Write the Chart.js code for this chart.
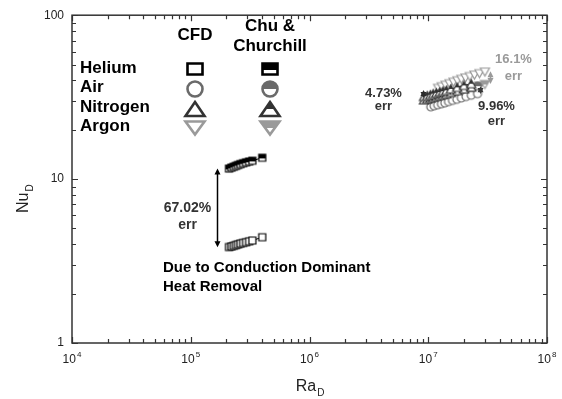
<!DOCTYPE html>
<html>
<head>
<meta charset="utf-8">
<script src="https://cdn.jsdelivr.net/npm/chart.js@4.4.1/dist/chart.umd.min.js"></script>
<style>
  html, body { margin: 0; padding: 0; background: #fff; }
  #wrap { width: 562px; height: 399px; }
</style>
</head>
<body>
<div id="wrap"><canvas id="nuChart"></canvas></div>
<script>
// Nusselt vs Rayleigh, CFD results against the Chu & Churchill correlation
const heliumRa    = [2.1e5, 2.2e5, 2.3e5, 2.4e5, 2.5e5, 2.62e5, 2.76e5, 2.92e5, 3.1e5, 3.3e5, 4.0e5];
const heliumCfdNu = [3.85, 3.88, 3.92, 3.96, 4.0, 4.04, 4.08, 4.12, 4.17, 4.22, 4.42];
const heliumCcNu  = [11.6, 11.75, 11.9, 12.05, 12.2, 12.35, 12.5, 12.65, 12.8, 12.95, 13.5];

const airRa    = [1.05e7, 1.12e7, 1.2e7, 1.29e7, 1.38e7, 1.48e7, 1.6e7, 1.74e7, 1.9e7, 2.08e7, 2.3e7, 2.6e7];
const airCfdNu = [27.6, 28.0, 28.4, 28.8, 29.2, 29.7, 30.2, 30.7, 31.3, 31.9, 32.5, 33.2];
const airCcNu  = [30.6, 31.1, 31.5, 32.0, 32.4, 33.0, 33.5, 34.1, 34.7, 35.4, 36.1, 36.9];

const nitrogenRa    = [9.2e6, 9.8e6, 1.04e7, 1.1e7, 1.17e7, 1.25e7, 1.33e7, 1.42e7, 1.55e7, 1.75e7, 2.0e7, 2.3e7];
const nitrogenCfdNu = [30.4, 30.8, 31.2, 31.6, 32.0, 32.4, 32.8, 33.2, 33.8, 34.6, 35.5, 36.4];
const nitrogenCcNu  = [31.9, 32.3, 32.7, 33.2, 33.6, 34.0, 34.4, 34.8, 35.5, 36.3, 37.3, 38.2];

const argonRa    = [1.21e7, 1.3e7, 1.4e7, 1.51e7, 1.63e7, 1.76e7, 1.9e7, 2.06e7, 2.24e7, 2.45e7, 2.7e7, 3.0e7];
const argonCfdNu = [35.8, 36.6, 37.4, 38.2, 39.0, 39.8, 40.6, 41.4, 42.2, 43.1, 44.0, 45.0];
const argonCcNu  = [30.1, 30.7, 31.4, 32.1, 32.8, 33.4, 34.1, 34.8, 35.4, 36.2, 37.0, 37.8];

const gasNames  = ['Helium', 'Air', 'Nitrogen', 'Argon'];
const gasColors = ['#000000', '#6a6a6a', '#333333', '#9a9a9a'];
const gasShapes = ['square', 'circle', 'triangle', 'triangleDown'];

// error bars between CFD and correlation
const errLabels  = ['67.02%', '4.73%', '9.96%', '16.1%'];
const errRa      = [1.66e5, 9.0e6, 2.72e7, 3.3e7];
const errNuHigh  = [11.6, 35.0, 36.8, 45.5];
const errNuLow   = [3.84, 31.2, 33.1, 38.0];
const errColors  = ['#000000', '#2a2a2a', '#3a3a3a', '#9a9a9a'];

const xTickExp = [4, 5, 6, 7, 8];
const yTickLabels = { 1: '1', 10: '10', 100: '100' };

const FONT = '"Liberation Sans", Arial, sans-serif';

function tracePath(ctx, shape, cx, cy, w, h) {
  ctx.beginPath();
  if (shape === 'square') {
    ctx.rect(cx - w / 2, cy - h / 2, w, h);
  } else if (shape === 'circle') {
    ctx.ellipse(cx, cy, w / 2, h / 2, 0, 0, Math.PI * 2);
  } else if (shape === 'triangle') {
    ctx.moveTo(cx, cy - h / 2);
    ctx.lineTo(cx + w / 2, cy + h / 2);
    ctx.lineTo(cx - w / 2, cy + h / 2);
    ctx.closePath();
  } else {
    ctx.moveTo(cx - w / 2, cy - h / 2);
    ctx.lineTo(cx + w / 2, cy - h / 2);
    ctx.lineTo(cx, cy + h / 2);
    ctx.closePath();
  }
}

// open or top-half-filled marker
function drawMarker(ctx, shape, cx, cy, w, h, color, half, lw) {
  ctx.save();
  tracePath(ctx, shape, cx, cy, w, h);
  ctx.fillStyle = '#fff';
  ctx.fill();
  if (half) {
    ctx.save();
    ctx.beginPath();
    ctx.rect(cx - w, cy - h, w * 2, h * (shape === 'square' ? 1.1 : 1));
    ctx.clip();
    tracePath(ctx, shape, cx, cy, w, h);
    ctx.fillStyle = color;
    ctx.fill();
    ctx.restore();
    tracePath(ctx, shape, cx, cy, w, h);
  }
  ctx.lineWidth = lw;
  ctx.strokeStyle = color;
  ctx.lineJoin = 'miter';
  ctx.stroke();
  ctx.restore();
}

const plotSize = {
  square: [7, 7], circle: [8, 8], triangle: [9, 8], triangleDown: [9, 8]
};

function markerCanvas(shape, color, half) {
  const [w, h] = plotSize[shape];
  const c = document.createElement('canvas');
  c.width = w + 4;
  c.height = h + 4;
  drawMarker(c.getContext('2d'), shape, c.width / 2, c.height / 2, w, h, color, half, 1.2);
  return c;
}

function series(label, ra, nu, gasIdx, half) {
  const color = gasColors[gasIdx];
  return {
    label: label,
    data: ra.map((r, i) => ({ x: r, y: nu[i] })),
    showLine: true,
    borderColor: color,
    borderWidth: 1,
    pointStyle: markerCanvas(gasShapes[gasIdx], color, half),
    pointRadius: 4,
    fill: false
  };
}

// first dataset ends up on top
const datasets = [
  series('Helium CFD', heliumRa, heliumCfdNu, 0, false),
  series('Helium Chu & Churchill', heliumRa, heliumCcNu, 0, true),
  series('Nitrogen Chu & Churchill', nitrogenRa, nitrogenCcNu, 2, true),
  series('Nitrogen CFD', nitrogenRa, nitrogenCfdNu, 2, false),
  series('Air CFD', airRa, airCfdNu, 1, false),
  series('Air Chu & Churchill', airRa, airCcNu, 1, true),
  series('Argon Chu & Churchill', argonRa, argonCcNu, 3, true),
  series('Argon CFD', argonRa, argonCfdNu, 3, false)
];

function drawArrow(ctx, x, y1, y2, color) {
  const head = 6;
  ctx.save();
  ctx.strokeStyle = color;
  ctx.fillStyle = color;
  ctx.lineWidth = 1.5;
  ctx.beginPath();
  ctx.moveTo(x, y1 + head - 1);
  ctx.lineTo(x, y2 - head + 1);
  ctx.stroke();
  ctx.beginPath();
  ctx.moveTo(x, y1); ctx.lineTo(x - 3, y1 + head); ctx.lineTo(x + 3, y1 + head);
  ctx.closePath(); ctx.fill();
  ctx.beginPath();
  ctx.moveTo(x, y2); ctx.lineTo(x - 3, y2 - head); ctx.lineTo(x + 3, y2 - head);
  ctx.closePath(); ctx.fill();
  ctx.restore();
}

// label placement around each arrow (pixels): dx, y of value line and "err" line from arrow middle, font size
const errLabelPos = [[-30, 0, 17, 14], [-40, -1, 12, 13], [16, 16, 31, 13], [23, -18, -1, 13]];

const decorPlugin = {
  id: 'decor',
  afterDraw(chart) {
    const ctx = chart.ctx;
    const a = chart.chartArea;
    const xs = chart.scales.x, ys = chart.scales.y;

    // frame and inward ticks on all four sides
    ctx.save();
    ctx.strokeStyle = '#333';
    ctx.lineWidth = 1.5;
    ctx.strokeRect(a.left, a.top, a.right - a.left, a.bottom - a.top);
    ctx.lineWidth = 1.2;
    ctx.beginPath();
    for (let e = 4; e <= 8; e++) {
      for (let m = 1; m <= 9; m++) {
        const v = m * Math.pow(10, e);
        if (v > 1e8) break;
        const px = Math.round(xs.getPixelForValue(v)) + 0.5;
        const len = m === 1 ? 6 : 4;
        ctx.moveTo(px, a.bottom); ctx.lineTo(px, a.bottom - len);
        ctx.moveTo(px, a.top); ctx.lineTo(px, a.top + len);
      }
    }
    for (let e = 0; e <= 2; e++) {
      for (let m = 1; m <= 9; m++) {
        const v = m * Math.pow(10, e);
        if (v > 100) break;
        const py = Math.round(ys.getPixelForValue(v)) + 0.5;
        const len = m === 1 ? 6 : 4;
        ctx.moveTo(a.left, py); ctx.lineTo(a.left + len, py);
        ctx.moveTo(a.right, py); ctx.lineTo(a.right - len, py);
      }
    }
    ctx.stroke();
    ctx.restore();

    // x tick labels as powers of ten
    ctx.save();
    ctx.fillStyle = '#222';
    ctx.textBaseline = 'alphabetic';
    ctx.textAlign = 'left';
    xTickExp.forEach((e) => {
      const px = xs.getPixelForValue(Math.pow(10, e));
      ctx.font = '12px ' + FONT;
      const bw = ctx.measureText('10').width;
      ctx.font = '8px ' + FONT;
      const ew = ctx.measureText(String(e)).width;
      const left = px - (bw + ew + 1) / 2;
      ctx.font = '12px ' + FONT;
      ctx.fillText('10', left, 363);
      ctx.font = '8px ' + FONT;
      ctx.fillText(String(e), left + bw + 1, 357);
    });
    ctx.restore();

    // axis titles with subscripts
    ctx.save();
    ctx.fillStyle = '#222';
    ctx.textBaseline = 'alphabetic';
    ctx.textAlign = 'left';
    ctx.font = '16px ' + FONT;
    const raW = ctx.measureText('Ra').width;
    const raX = (a.left + a.right) / 2 - (raW + 7) / 2;
    ctx.fillText('Ra', raX, 391);
    ctx.font = '10px ' + FONT;
    ctx.fillText('D', raX + raW + 1, 396);
    ctx.translate(28, 213);
    ctx.rotate(-Math.PI / 2);
    ctx.font = '16px ' + FONT;
    const nuW = ctx.measureText('Nu').width;
    ctx.fillText('Nu', 0, 0);
    ctx.font = '10px ' + FONT;
    ctx.fillText('D', nuW + 1, 5);
    ctx.restore();

    // legend table
    ctx.save();
    ctx.fillStyle = '#000';
    ctx.font = 'bold 17px ' + FONT;
    ctx.textBaseline = 'middle';
    ctx.textAlign = 'center';
    const colCfd = 195, colCc = 270;
    ctx.fillText('CFD', colCfd, 35);
    ctx.fillText('Chu &', colCc, 26);
    ctx.fillText('Churchill', colCc, 46);
    const rowY = [68, 87, 107, 126];
    const legSize = {
      square: [15, 11], circle: [15, 15], triangle: [19, 14], triangleDown: [19, 13]
    };
    gasNames.forEach((name, i) => {
      ctx.textAlign = 'left';
      ctx.fillStyle = '#000';
      ctx.fillText(name, 80, rowY[i]);
      const [w, h] = legSize[gasShapes[i]];
      const my = i === 0 ? rowY[i] + 1 : rowY[i] + 2;
      drawMarker(ctx, gasShapes[i], colCfd, my, w, h, gasColors[i], false, 2.6);
      drawMarker(ctx, gasShapes[i], colCc, my, w, h, gasColors[i], true, 2.6);
    });
    ctx.restore();

    // error arrows and their labels
    ctx.save();
    ctx.textAlign = 'center';
    ctx.textBaseline = 'middle';
    errLabels.forEach((lab, i) => {
      const x = Math.round(xs.getPixelForValue(errRa[i])) + 0.5;
      const y1 = ys.getPixelForValue(errNuHigh[i]);
      const y2 = ys.getPixelForValue(errNuLow[i]);
      drawArrow(ctx, x, y1, y2, errColors[i]);
      const mid = (y1 + y2) / 2;
      const [dx, dy1, dy2, fs] = errLabelPos[i];
      ctx.font = 'bold ' + fs + 'px ' + FONT;
      ctx.fillStyle = i === 3 ? '#9a9a9a' : '#333';
      ctx.fillText(lab, x + dx, mid + dy1);
      ctx.fillText('err', x + dx, mid + dy2);
    });
    ctx.font = 'bold 15px ' + FONT;
    ctx.textAlign = 'left';
    ctx.fillStyle = '#000';
    ctx.fillText('Due to Conduction Dominant', 163, 268);
    ctx.fillText('Heat Removal', 163, 287);
    ctx.restore();
  }
};

new Chart(document.getElementById('nuChart'), {
  type: 'scatter',
  data: { datasets: datasets },
  plugins: [decorPlugin],
  options: {
    responsive: true,
    maintainAspectRatio: false,
    animation: false,
    layout: { padding: { top: 14, right: 15, left: 0, bottom: 0 } },
    plugins: { legend: { display: false }, tooltip: { enabled: false } },
    scales: {
      x: {
        type: 'logarithmic',
        min: 1e4,
        max: 1e8,
        border: { display: false },
        grid: { display: false, drawTicks: false },
        ticks: { display: false },
        afterFit: (s) => { s.height = 56; }
      },
      y: {
        type: 'logarithmic',
        min: 1,
        max: 100,
        border: { display: false },
        grid: { display: false, drawTicks: false },
        ticks: {
          autoSkip: false,
          padding: 8,
          color: '#222',
          font: { family: FONT, size: 12 },
          callback: (v) => yTickLabels[v] || ''
        },
        afterFit: (s) => { s.width = 72; }
      }
    }
  }
});
</script>
</body>
</html>
